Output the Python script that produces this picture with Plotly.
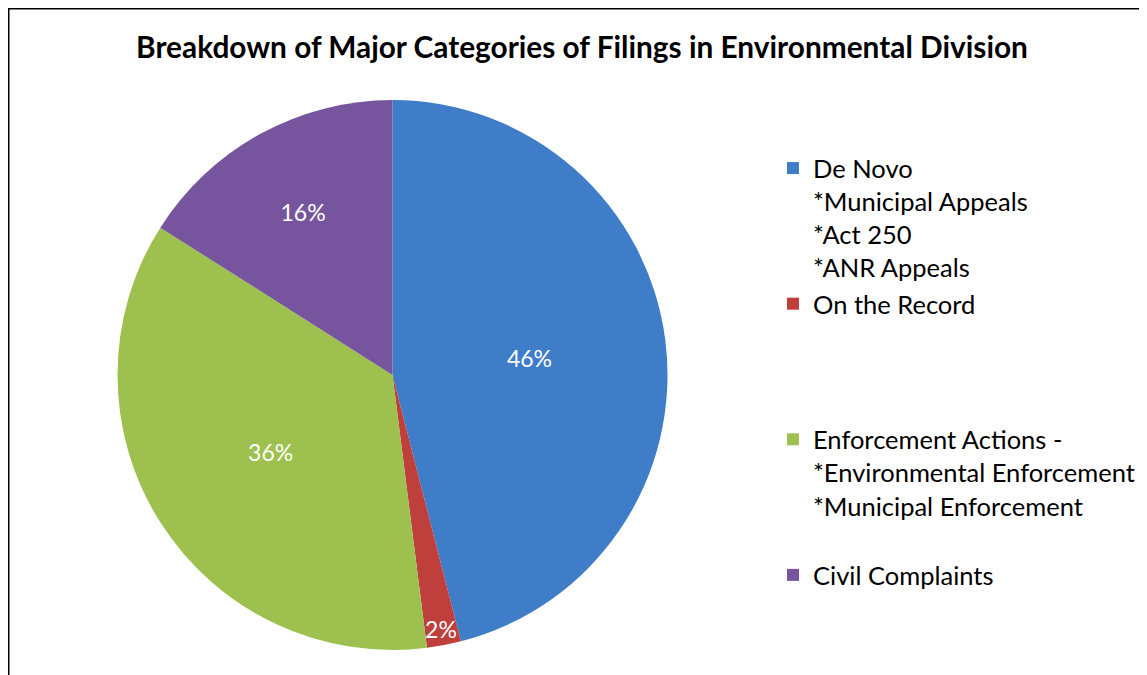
import plotly.graph_objects as go

W, H = 1147, 675
OFF = 8  # page body margin offset

categories = [
    "De Novo<br>*Municipal Appeals<br>*Act 250<br>*ANR Appeals",
    "On the Record<br> <br> <br> ",
    "Enforcement Actions -<br>*Environmental Enforcement<br>*Municipal Enforcement<br> ",
    "Civil Complaints",
]
values = [46, 2, 36, 16]
colors = ["#3F7DC8", "#BE3F3B", "#9DC04E", "#76559E"]
title_text = "Breakdown of Major Categories of Filings in Environmental Division"

fig = go.Figure()
fig.add_trace(go.Pie(
    labels=categories,
    values=values,
    sort=False,
    direction="clockwise",
    rotation=0,
    marker=dict(colors=colors, line=dict(width=0)),
    textinfo="percent",
    texttemplate="%{percent:.0%}",
    textposition="inside",
    insidetextorientation="horizontal",
    insidetextfont=dict(family="Lato", size=23, color="white"),
    domain=dict(x=[(117 - OFF) / W, (668 - OFF) / W],
                y=[1 - (650 - OFF) / H, 1 - (100 - OFF) / H]),
    hoverinfo="label+percent",
))

frame = dict(color="black", width=3)
fig.add_shape(type="line", xref="paper", yref="paper",
              x0=0, y0=1, x1=1.0, y1=1, line=frame)
fig.add_shape(type="line", xref="paper", yref="paper",
              x0=0, y0=1, x1=0, y1=0, line=frame)

fig.update_layout(
    width=W, height=H,
    margin=dict(l=0, r=0, t=0, b=0),
    paper_bgcolor="white",
    plot_bgcolor="white",
    font=dict(family="Lato", color="black"),
    title=dict(text="<b>" + title_text + "</b>", x=(582 - OFF) / W, xanchor="center",
               y=1 - (48 - OFF) / H, yanchor="middle",
               font=dict(family="Lato", size=29.8, color="black")),
    legend=dict(x=(773 - OFF) / W, y=1 - (145 - OFF) / H, xanchor="left", yanchor="top",
                font=dict(family="Lato", size=25.5, color="black"),
                valign="top", bgcolor="rgba(0,0,0,0)", traceorder="normal"),
    uniformtext=dict(minsize=23, mode="show"),
)

fig.write_html("out.html")
